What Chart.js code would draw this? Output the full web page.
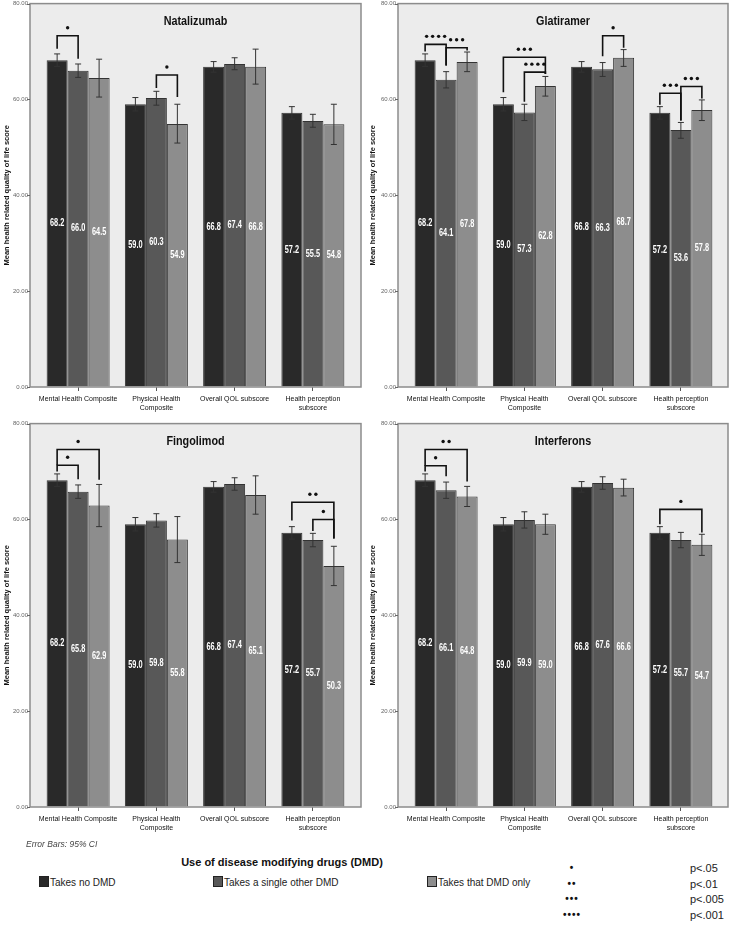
<!DOCTYPE html>
<html>
<head>
<meta charset="utf-8">
<script src="https://cdn.jsdelivr.net/npm/chart.js@4.4.0/dist/chart.umd.min.js"></script>
<style>
  body { margin: 0; background: #fff; width: 732px; height: 928px; position: relative; overflow: hidden;
         font-family: "Liberation Sans", Arial, sans-serif; color: #111; }
  .panel { position: absolute; width: 366px; height: 420px; }
  .panel canvas { display: block; }
  .note { position: absolute; left: 26px; top: 839px; font: italic 8.5px "Liberation Sans", Arial, sans-serif; color: #444; }
  .ltitle { position: absolute; left: 130px; width: 304px; text-align: center; top: 856px; font: bold 11px "Liberation Sans", Arial, sans-serif; }
  .litem { position: absolute; top: 876px; font: 10px "Liberation Sans", Arial, sans-serif; color: #222; white-space: nowrap; }
  .litem i { display: inline-block; width: 8px; height: 9px; border: 1px solid #222; vertical-align: -1px; margin-right: 1px; }
  .pdots { position: absolute; left: 540px; width: 64px; text-align: center; font: bold 10px "Liberation Sans", Arial, sans-serif; letter-spacing: 1px; }
  .ptext { position: absolute; left: 690px; font: 11px "Liberation Sans", Arial, sans-serif; color: #222; }
</style>
</head>
<body>
<div class="panel" style="left:0;top:0"><canvas id="natalizumab" width="366" height="420"></canvas></div>
<div class="panel" style="left:366px;top:0"><canvas id="glatiramer" width="366" height="420"></canvas></div>
<div class="panel" style="left:0;top:420px"><canvas id="fingolimod" width="366" height="420"></canvas></div>
<div class="panel" style="left:366px;top:420px"><canvas id="interferons" width="366" height="420"></canvas></div>
<div class="note">Error Bars: 95% CI</div>
<div class="ltitle">Use of disease modifying drugs (DMD)</div>
<div id="legend"></div>
<script>
// 4 パネル共通のカテゴリと系列名
const categories = [
  ["Mental Health Composite"],
  ["Physical Health", "Composite"],
  ["Overall QOL subscore"],
  ["Health perception", "subscore"],
];
const seriesLabels = ["Takes no DMD", "Takes a single other DMD", "Takes that DMD only"];
const yTitle = "Mean health related quality of life score";

// DMD なし (全パネル共通)
const noDmdMean = [68.2, 59.0, 66.8, 57.2];
const noDmdLow = [66.9, 57.6, 65.7, 55.9];
const noDmdHigh = [69.5, 60.4, 67.9, 58.5];

const natalizumabOtherMean = [66.0, 60.3, 67.4, 55.5];
const natalizumabOtherLow = [64.6, 58.8, 66.2, 54.2];
const natalizumabOtherHigh = [67.4, 61.7, 68.7, 56.9];
const natalizumabOnlyMean = [64.5, 54.9, 66.8, 54.8];
const natalizumabOnlyLow = [60.5, 50.9, 63.2, 50.6];
const natalizumabOnlyHigh = [68.4, 59.0, 70.5, 59.0];

const glatiramerOtherMean = [64.1, 57.3, 66.3, 53.6];
const glatiramerOtherLow = [62.4, 55.6, 64.8, 51.9];
const glatiramerOtherHigh = [65.8, 59.0, 67.7, 55.2];
const glatiramerOnlyMean = [67.8, 62.8, 68.7, 57.8];
const glatiramerOnlyLow = [65.8, 60.7, 66.9, 55.6];
const glatiramerOnlyHigh = [69.9, 64.8, 70.4, 59.9];

const fingolimodOtherMean = [65.8, 59.8, 67.4, 55.7];
const fingolimodOtherLow = [64.4, 58.4, 66.1, 54.3];
const fingolimodOtherHigh = [67.2, 61.2, 68.7, 57.1];
const fingolimodOnlyMean = [62.9, 55.8, 65.1, 50.3];
const fingolimodOnlyLow = [58.5, 51.0, 61.1, 46.2];
const fingolimodOnlyHigh = [67.3, 60.6, 69.1, 54.4];

const interferonsOtherMean = [66.1, 59.9, 67.6, 55.7];
const interferonsOtherLow = [64.4, 58.2, 66.3, 54.1];
const interferonsOtherHigh = [67.8, 61.6, 68.9, 57.3];
const interferonsOnlyMean = [64.8, 59.0, 66.6, 54.7];
const interferonsOnlyLow = [62.7, 56.9, 64.9, 52.5];
const interferonsOnlyHigh = [66.9, 61.1, 68.4, 56.9];

// 有意差ブラケット: [カテゴリ, 系列から, 系列へ, 星の数, 横線の値, 左脚の下端, 右脚の下端]
const natalizumabBrackets = [[0, 0, 1, 1, 73.3, 70.6, 68.5], [1, 1, 2, 1, 65.1, 62.4, 60.5]];
const glatiramerBrackets = [
  [0, 0, 1, 4, 71.5, 70.0, 67.1], [0, 1, 2, 3, 70.8, 67.1, 70.2],
  [1, 0, 2, 3, 68.8, 61.5, 65.3], [1, 1, 2, 4, 65.7, 59.5, 65.3],
  [2, 1, 2, 1, 73.3, 69.0, 70.8],
  [3, 0, 1, 3, 61.3, 58.9, 55.6], [3, 1, 2, 3, 62.7, 55.6, 60.2],
];
const fingolimodBrackets = [
  [0, 0, 1, 1, 71.3, 70.0, 68.4], [0, 0, 2, 1, 74.6, 71.3, 68.3],
  [3, 0, 2, 2, 63.6, 59.8, 56.0], [3, 1, 2, 1, 60.0, 57.6, 56.0],
];
const interferonsBrackets = [
  [0, 0, 1, 1, 71.2, 70.0, 69.0], [0, 0, 2, 2, 74.6, 71.2, 67.9],
  [3, 0, 2, 1, 62.1, 59.0, 57.3],
];

const pLevels = ["p<.05", "p<.01", "p<.005", "p<.001"];

const barColors = ["#292929", "#585858", "#8d8d8d"];
const SANS = '"Liberation Sans", Arial, sans-serif';

// 細身のフォントがないので横方向に縮めて描く
function narrowText(ctx, text, x, y, font, sx) {
  ctx.save();
  ctx.translate(x, y);
  ctx.scale(sx, 1);
  ctx.font = font;
  ctx.textAlign = "center";
  ctx.textBaseline = "middle";
  ctx.fillText(text, 0, 0);
  ctx.restore();
}

function drawStars(ctx, cx, cy, n) {
  const gap = 6;
  const start = cx - ((n - 1) * gap) / 2;
  for (let i = 0; i < n; i++) {
    ctx.beginPath();
    ctx.arc(start + i * gap, cy, 1.7, 0, Math.PI * 2);
    ctx.fill();
  }
}

const decorPlugin = {
  id: "decor",
  beforeDatasetsDraw(chart, args, o) {
    const { ctx, chartArea: a } = chart;
    ctx.save();
    ctx.fillStyle = "#ececec";
    ctx.fillRect(o.frameL, a.top, o.frameR - o.frameL, a.bottom - a.top);
    ctx.restore();
  },
  afterDatasetsDraw(chart, args, o) {
    const { ctx, chartArea: a } = chart;
    const y = chart.scales.y;
    ctx.save();

    // 枠と y 目盛り
    ctx.strokeStyle = "#8c8c8c";
    ctx.lineWidth = 1.5;
    ctx.strokeRect(o.frameL, a.top, o.frameR - o.frameL, a.bottom - a.top);
    ctx.strokeStyle = "#666";
    ctx.lineWidth = 1;
    y.ticks.forEach((t) => {
      const py = Math.round(y.getPixelForValue(t.value)) + 0.5;
      ctx.beginPath();
      ctx.moveTo(o.frameL - 3, py);
      ctx.lineTo(o.frameL, py);
      ctx.stroke();
    });

    // 値ラベルと誤差棒
    chart.data.datasets.forEach((ds, i) => {
      const meta = chart.getDatasetMeta(i);
      meta.data.forEach((bar, c) => {
        ctx.fillStyle = "#fff";
        narrowText(ctx, ds.data[c].toFixed(1), bar.x, (bar.y + bar.base) / 2, `bold 10.5px ${SANS}`, 0.7);

        const yl = y.getPixelForValue(o.lows[i][c]);
        const yh = y.getPixelForValue(o.highs[i][c]);
        ctx.strokeStyle = "#333";
        ctx.lineWidth = 1;
        ctx.beginPath();
        ctx.moveTo(bar.x, yl); ctx.lineTo(bar.x, yh);
        ctx.moveTo(bar.x - 3, yl); ctx.lineTo(bar.x + 3, yl);
        ctx.moveTo(bar.x - 3, yh); ctx.lineTo(bar.x + 3, yh);
        ctx.stroke();
      });
    });

    // 有意差ブラケット
    ctx.strokeStyle = "#111";
    ctx.fillStyle = "#111";
    ctx.lineWidth = 1.6;
    o.brackets.forEach(([c, from, to, stars, top, fromEnd, toEnd]) => {
      const x1 = chart.getDatasetMeta(from).data[c].x;
      const x2 = chart.getDatasetMeta(to).data[c].x;
      const yt = y.getPixelForValue(top);
      ctx.beginPath();
      ctx.moveTo(x1, y.getPixelForValue(fromEnd));
      ctx.lineTo(x1, yt);
      ctx.lineTo(x2, yt);
      ctx.lineTo(x2, y.getPixelForValue(toEnd));
      ctx.stroke();
      drawStars(ctx, (x1 + x2) / 2, yt - 8, stars);
    });

    // パネルタイトル
    ctx.fillStyle = "#111";
    narrowText(ctx, o.title, (o.frameL + o.frameR) / 2, a.top + 18, `bold 13.5px ${SANS}`, 0.8);
    ctx.restore();
  },
};

function makePanel(id, title, means, lows, highs, brackets, side) {
  const f = side === "left"
    ? { frameL: 30, frameR: 361, axisW: 39, padR: 14 }
    : { frameL: 32, frameR: 362, axisW: 41, padR: 12 };
  new Chart(document.getElementById(id), {
    type: "bar",
    data: {
      labels: categories,
      datasets: means.map((m, i) => ({
        label: seriesLabels[i],
        data: m,
        backgroundColor: barColors[i],
        borderColor: "#333",
        borderWidth: 1,
        categoryPercentage: 0.805,
        barPercentage: 1,
      })),
    },
    options: {
      responsive: false,
      animation: false,
      layout: { padding: { left: 0, right: f.padR, top: 3, bottom: 0 } },
      plugins: {
        legend: { display: false },
        tooltip: { enabled: false },
        decor: { title, lows, highs, brackets, frameL: f.frameL, frameR: f.frameR },
      },
      scales: {
        x: {
          grid: { drawOnChartArea: false, offset: false, tickLength: 4, color: "#555" },
          border: { display: false },
          ticks: { font: { size: 7, family: SANS, lineHeight: 1.2 }, color: "#111", maxRotation: 0, autoSkip: false, padding: 4 },
          afterFit: (s) => { s.height = 33; },
        },
        y: {
          min: 0,
          max: 80,
          grid: { drawOnChartArea: false, drawTicks: true, tickLength: f.axisW - f.frameL + 2, tickColor: "rgba(0,0,0,0)" },
          border: { display: false },
          ticks: { stepSize: 20, padding: 0, font: { size: 6 }, color: "#666", callback: (v) => v.toFixed(2) },
          title: {
            display: true,
            text: yTitle,
            font: { size: 7.5, weight: "bold", family: SANS },
            color: "#111",
            padding: { top: 2, bottom: 0 },
          },
          afterFit: (s) => { s.width = f.axisW; },
        },
      },
    },
    plugins: [decorPlugin],
  });
}

makePanel("natalizumab", "Natalizumab",
  [noDmdMean, natalizumabOtherMean, natalizumabOnlyMean],
  [noDmdLow, natalizumabOtherLow, natalizumabOnlyLow],
  [noDmdHigh, natalizumabOtherHigh, natalizumabOnlyHigh],
  natalizumabBrackets, "left");
makePanel("glatiramer", "Glatiramer",
  [noDmdMean, glatiramerOtherMean, glatiramerOnlyMean],
  [noDmdLow, glatiramerOtherLow, glatiramerOnlyLow],
  [noDmdHigh, glatiramerOtherHigh, glatiramerOnlyHigh],
  glatiramerBrackets, "right");
makePanel("fingolimod", "Fingolimod",
  [noDmdMean, fingolimodOtherMean, fingolimodOnlyMean],
  [noDmdLow, fingolimodOtherLow, fingolimodOnlyLow],
  [noDmdHigh, fingolimodOtherHigh, fingolimodOnlyHigh],
  fingolimodBrackets, "left");
makePanel("interferons", "Interferons",
  [noDmdMean, interferonsOtherMean, interferonsOnlyMean],
  [noDmdLow, interferonsOtherLow, interferonsOnlyLow],
  [noDmdHigh, interferonsOtherHigh, interferonsOnlyHigh],
  interferonsBrackets, "right");

// 凡例 (HTML)
const legend = document.getElementById("legend");
const itemLeft = [39, 213, 427];
seriesLabels.forEach((name, i) => {
  const el = document.createElement("div");
  el.className = "litem";
  el.style.left = itemLeft[i] + "px";
  el.innerHTML = `<i style="background:${barColors[i]}"></i>${name}`;
  legend.appendChild(el);
});
pLevels.forEach((p, i) => {
  const top = 862 + i * 15.5;
  const d = document.createElement("div");
  d.className = "pdots";
  d.style.top = top + "px";
  d.textContent = "•".repeat(i + 1);
  legend.appendChild(d);
  const t = document.createElement("div");
  t.className = "ptext";
  t.style.top = top + "px";
  t.textContent = p;
  legend.appendChild(t);
});
</script>
</body>
</html>
